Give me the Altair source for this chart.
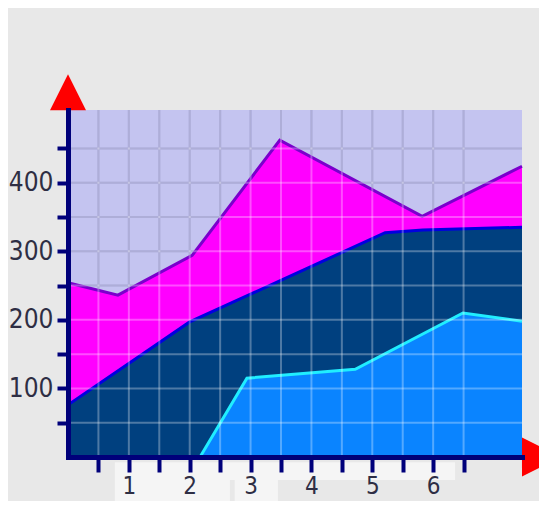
import altair as alt
import pandas as pd

# ---- series ----
mag_x = [0.0, 0.82, 2.04, 3.48, 5.82, 7.46]
mag_y = [254, 236, 294, 462, 351, 424]
navy_x = [0.0, 2.0, 5.21, 5.83, 7.46]
navy_y = [76, 197, 327, 331, 335]
blue_x = [2.17, 2.94, 4.72, 6.49, 7.46]
blue_y = [0, 115, 128, 210, 198]

# ---- axis ticks / labels ----
x_ticks = [0.5, 1, 1.5, 2, 2.5, 3, 3.5, 4, 4.5, 5, 5.5, 6, 6.5]
y_ticks = [50, 100, 150, 200, 250, 300, 350, 400, 450]
X_MAX = 7.46
Y_MAX = 506

# decorations (in data units)
arrow_x = [0.0, 7.78]
arrow_y = [532, 0]
arrow_shape = ["up", "right"]
lbg_x = [0.77, 0.77, 2.74]
lbg_x2 = [6.36, 2.66, 3.45]
lbg_y = [-7.5, -33.5, -33.5]
lbg_y2 = [-33.5, -75, -75]

FONT = "Liberation Sans Narrow, DejaVu Sans Condensed, sans-serif"
AX = "#00007a"

xs = alt.Scale(domain=[0, X_MAX], nice=False, zero=False)
ys = alt.Scale(domain=[0, Y_MAX], nice=False, zero=False)

x_axis = alt.Axis(
    title=None, values=x_ticks, grid=False, domain=True, domainColor=AX,
    domainWidth=5, domainCap="square", ticks=True, tickColor=AX, tickWidth=4,
    tickSize=15, labelFont=FONT, labelFontSize=24, labelColor="#2e2e44",
    labelPadding=2, labelOverlap=False, labelFlush=False, zindex=1,
    labelExpr="datum.value % 1 === 0 ? format(datum.value, 'd') : ''",
)
y_axis = alt.Axis(
    title=None, values=y_ticks, grid=False, domain=True, domainColor=AX,
    domainWidth=5, domainCap="square", ticks=True, tickColor=AX, tickWidth=4,
    tickSize=11, labelFont=FONT, labelFontSize=26, labelColor="#2e2e44",
    labelPadding=4, labelOverlap=False, labelFlush=False, zindex=1,
    labelExpr="datum.value % 100 === 0 ? format(datum.value, 'd') : ''",
)


def X(field="x"):
    return alt.X(f"{field}:Q", scale=xs, axis=x_axis)


def Y(field="y"):
    return alt.Y(f"{field}:Q", scale=ys, axis=y_axis)


mag = pd.DataFrame({"x": mag_x, "y": mag_y})
navy = pd.DataFrame({"x": navy_x, "y": navy_y})
blue = pd.DataFrame({"x": blue_x, "y": blue_y})
gx = pd.DataFrame({"x": x_ticks})
gy = pd.DataFrame({"y": y_ticks})
arrows = pd.DataFrame({"x": arrow_x, "y": arrow_y, "s": arrow_shape})
lbg = pd.DataFrame({"x": lbg_x, "x2": lbg_x2, "y": lbg_y, "y2": lbg_y2})

label_bg = alt.Chart(lbg).mark_rect(color="#f5f5f5").encode(
    x=X(), x2="x2:Q", y=Y(), y2="y2:Q",
)

grid_back_v = alt.Chart(gx).mark_rule(color="#8c8cc8", strokeWidth=2).encode(x=X())
grid_back_h = alt.Chart(gy).mark_rule(color="#8c8cc8", strokeWidth=2).encode(y=Y())

area_mag = alt.Chart(mag).mark_area(
    color="#ff00ff", opacity=1,
    line=alt.OverlayMarkDef(color="#7a00cc", strokeWidth=3),
).encode(x=X(), y=Y())

area_navy = alt.Chart(navy).mark_area(
    color="#00407f", opacity=1,
    line=alt.OverlayMarkDef(color="#0000e0", strokeWidth=3),
).encode(x=X(), y=Y())

area_blue = alt.Chart(blue).mark_area(
    color="#0a84ff", opacity=1,
    line=alt.OverlayMarkDef(color="#20eeff", strokeWidth=3),
).encode(x=X(), y=Y())

grid_top_v = alt.Chart(gx).mark_rule(color="white", opacity=0.3, strokeWidth=2).encode(x=X())
grid_top_h = alt.Chart(gy).mark_rule(color="white", opacity=0.3, strokeWidth=2).encode(y=Y())

arrow_up = alt.Chart(arrows).transform_filter("datum.s === 'up'").mark_point(
    shape="M-1,1L0,-1L1,1Z", filled=True, color="#ff0000", opacity=1, size=1296, strokeWidth=0
).encode(x=X(), y=Y())

arrow_right = alt.Chart(arrows).transform_filter("datum.s === 'right'").mark_point(
    shape="M-1,-1L1,0L-1,1Z", filled=True, color="#ff0000", opacity=1, size=1521, strokeWidth=0
).encode(x=X(), y=Y())

chart = alt.layer(
    label_bg, grid_back_v, grid_back_h, area_mag, area_navy, area_blue,
    grid_top_v, grid_top_h, arrow_up, arrow_right,
).properties(
    width=454, height=347,
    padding={"left": 60, "top": 102, "right": 17, "bottom": 44},
    autosize=alt.AutoSizeParams(type="none"),
).configure(background="#e8e8e8").configure_view(fill="#c4c4f0", strokeWidth=0)

chart.save("out.html", embed_options={"renderer": "svg", "actions": False})
